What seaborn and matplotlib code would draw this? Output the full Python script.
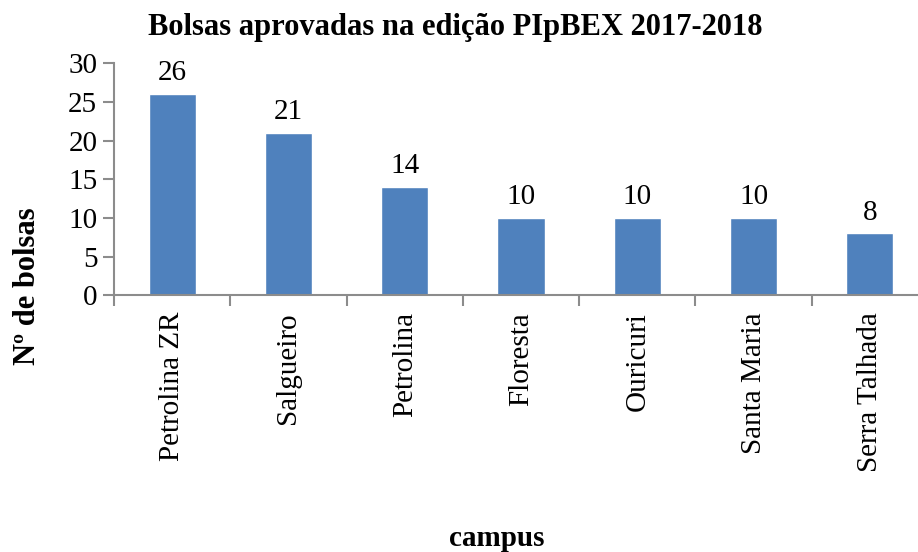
import matplotlib
matplotlib.use("Agg")
import matplotlib.pyplot as plt
import seaborn as sns
import pandas as pd

# === Data ===
campus = ["Petrolina ZR", "Salgueiro", "Petrolina", "Floresta",
          "Ouricuri", "Santa Maria", "Serra Talhada"]
bolsas = [26, 21, 14, 10, 10, 10, 8]
df = pd.DataFrame({"campus": campus, "bolsas": bolsas})

# === Plot ===
sns.set_style("white")
plt.rcParams["font.family"] = ["Liberation Serif", "DejaVu Serif"]
plt.rcParams["text.color"] = "black"
plt.rcParams["xtick.labelcolor"] = "black"
plt.rcParams["ytick.labelcolor"] = "black"

fig = plt.figure(figsize=(9.18, 5.52), dpi=100)
W, H = 918, 552
ax = fig.add_axes([114 / W, 1 - 295.3 / H, (928 - 114) / W, (295.3 - 63.3) / H])

sns.barplot(data=df, x="campus", y="bolsas", color="#4F81BD", width=0.405,
            saturation=1, ax=ax)

for i, v in enumerate(bolsas):
    ax.text(i, v + 1.0, str(v), ha="center", va="bottom", fontsize=21)

grey = "#8c8c8c"
ax.set_ylim(0, 30)
ax.set_yticks(range(0, 31, 5))
ax.set_xlim(-0.5, len(campus) - 0.5)
ax.set_xticks([i - 0.5 for i in range(len(campus))], minor=True)
ax.tick_params(axis="x", which="major", length=0, pad=12, labelsize=21,
               rotation=90, bottom=True)
ax.tick_params(axis="x", which="minor", length=8, width=1.5, color=grey,
               direction="out", bottom=True)
ax.tick_params(axis="y", length=8, width=1.5, color=grey, direction="out",
               labelsize=21, pad=4, left=True)
for s in ["top", "right"]:
    ax.spines[s].set_visible(False)
for s in ["left", "bottom"]:
    ax.spines[s].set_color(grey)
    ax.spines[s].set_linewidth(1.5)

ax.set_xlabel("")
ax.set_ylabel("")
fig.text(455 / W, 1 - 27 / H, "Bolsas aprovadas na edição PIpBEX 2017-2018",
         ha="center", va="center", fontsize=22, fontweight="bold")
fig.text(28 / W, 1 - 286 / H, "Nº de bolsas", rotation=90, ha="center", va="center",
         fontsize=22, fontweight="bold")
fig.text(497 / W, 1 - 539 / H, "campus", ha="center", va="center",
         fontsize=21, fontweight="bold")

fig.savefig("out.png", dpi=100)
plt.close(fig)
